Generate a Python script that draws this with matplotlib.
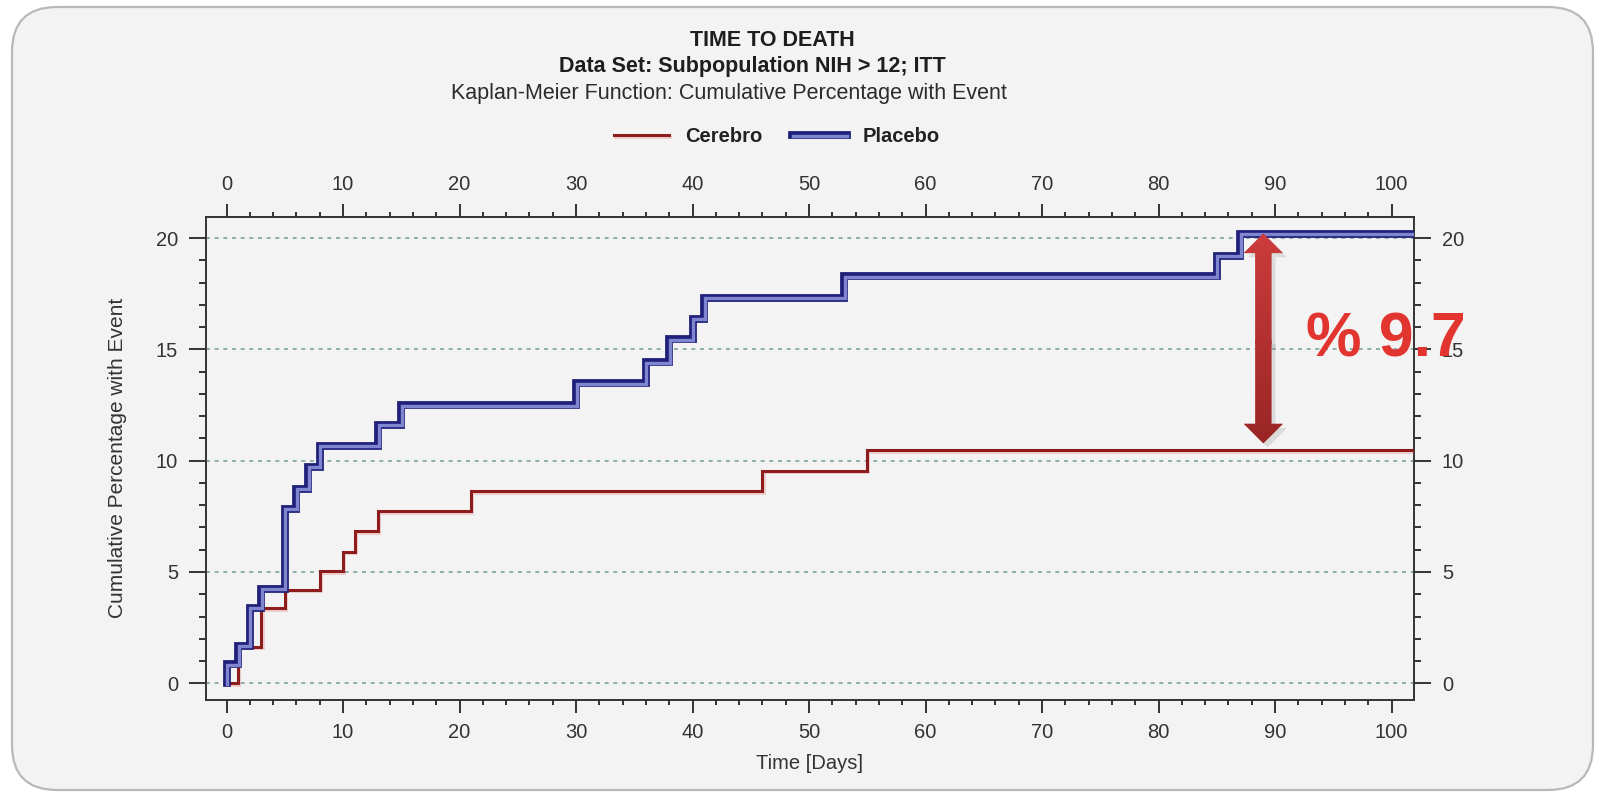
import numpy as np
import matplotlib
matplotlib.use("Agg")
import matplotlib.pyplot as plt
import matplotlib.patheffects as pe
from matplotlib.patches import FancyBboxPatch, FancyArrowPatch, ArrowStyle
from matplotlib.colors import LinearSegmentedColormap
from matplotlib.lines import Line2D
from matplotlib.transforms import IdentityTransform

plt.rcParams['font.family'] = ['Liberation Sans', 'DejaVu Sans']

# --- Kaplan-Meier data: event day and cumulative % with event after the step ---
cerebro_days = [1, 3, 5, 8, 10, 11, 13, 21, 46, 55]
cerebro_pct = [1.65, 3.38, 4.20, 5.05, 5.92, 6.82, 7.72, 8.63, 9.55, 10.47]
placebo_days = [0, 1, 2, 3, 5, 6, 7, 8, 13, 15, 30, 36, 38, 40, 41, 53, 85, 87]
placebo_pct = [0.85, 1.68, 3.40, 4.25, 7.85, 8.75, 9.72, 10.68, 11.62, 12.50,
               13.48, 14.43, 15.45, 16.38, 17.32, 18.28, 19.20, 20.20]
series_names = ['Cerebro', 'Placebo']

x_major = np.arange(0, 101, 10)
x_minor = np.arange(0, 101, 2)
y_major = [0, 5, 10, 15, 20]
y_minor = np.arange(0, 21, 1)
x_lim = (-1.76, 101.93)
y_lim = (-0.75, 20.96)
arrow_day = 89

title = 'TIME TO DEATH'
subtitle = 'Data Set: Subpopulation NIH > 12; ITT'
subtitle2 = 'Kaplan-Meier Function: Cumulative Percentage with Event'

W, H = 1600, 793
bg = '#f3f3f3'
red = '#8e1c1c'
navy = '#20207a'
lavender = '#8085d0'

fig = plt.figure(figsize=(W / 100, H / 100), dpi=100, facecolor='white')

# rounded panel behind everything
frame = FancyBboxPatch((12, 3), 1581, 783, boxstyle='round,pad=0,rounding_size=45',
                       transform=IdentityTransform(), facecolor=bg,
                       edgecolor='#b9b9b9', lw=1.6, zorder=-5)
fig.add_artist(frame)

# axes box: 206..1414 px wide, 216.7..700 px from the top
ax = fig.add_axes([206 / W, (H - 700) / H, (1414 - 206) / W, (700 - 216.7) / H])
ax.set_facecolor(bg)


def km_steps(days, pct, end):
    t = np.r_[0, days, end]
    v = np.r_[0, pct, pct[-1]]
    return t, v


red_fx = [pe.SimpleLineShadow(offset=(0.8, -1.2), shadow_color='#e07a7a', alpha=0.3),
          pe.Normal()]
blue_fx = [pe.Stroke(linewidth=5.6, foreground=navy, joinstyle='miter'),
           pe.Stroke(offset=(0.4, -0.4), linewidth=2.4, foreground=lavender, joinstyle='miter')]

t, v = km_steps(cerebro_days, cerebro_pct, x_lim[1])
ax.step(t, v, where='post', color=red, lw=2.2, solid_joinstyle='miter',
        path_effects=red_fx, zorder=3)
t, v = km_steps(placebo_days, placebo_pct, x_lim[1])
ax.step(t, v, where='post', color=lavender, lw=2.4, solid_joinstyle='miter',
        path_effects=blue_fx, zorder=4)

# grid and axes styling
ax.set_axisbelow(True)
ax.yaxis.grid(True, color='#86a9a2', ls=(0, (2.2, 2.6)), lw=1.3)
ax.set_xticks(x_major)
ax.set_xticks(x_minor, minor=True)
ax.set_yticks(y_major)
ax.set_yticks(y_minor, minor=True)
ax.tick_params(which='both', direction='out', top=True, right=True,
               labeltop=True, labelright=True, color='#333333', width=1.4,
               labelsize=14.5, labelcolor='#333333')
ax.tick_params(axis='y', which='major', length=12, pad=8)
ax.tick_params(axis='y', which='minor', length=5)
ax.tick_params(axis='x', which='major', length=9.5, pad=7)
ax.tick_params(axis='x', which='minor', length=3.5)
for s in ax.spines.values():
    s.set_color('#333333')
    s.set_linewidth(1.4)

ax.set_xlabel('Time [Days]', fontsize=14.5, color='#333333', labelpad=9)
ax.set_ylabel('Cumulative Percentage with Event', fontsize=15, color='#333333', labelpad=21)

# titles
fig.text(772 / W, 1 - 46.5 / H, title, ha='center', va='baseline',
         fontsize=15.5, fontweight='bold', color='#1e1e1e')
fig.text(752 / W, 1 - 72 / H, subtitle, ha='center', va='baseline',
         fontsize=15.5, fontweight='bold', color='#1e1e1e')
fig.text(729 / W, 1 - 99 / H, subtitle2, ha='center', va='baseline',
         fontsize=15.5, color='#2b2b2b')

# legend
handles = [Line2D([], [], color=red, lw=2.2, path_effects=red_fx),
           Line2D([], [], color=lavender, lw=2.4, path_effects=blue_fx)]
fig.legend(handles, series_names, loc='center', bbox_to_anchor=(777 / W, 1 - 136.7 / H),
           ncol=2, frameon=False, prop={'weight': 'bold', 'size': 14.5},
           handlelength=2.7, handletextpad=0.8, columnspacing=1.5, labelcolor='#222222')

# double-headed gap arrow between the final levels
top = placebo_pct[-1]
bottom = cerebro_pct[-1]
mid = (top + bottom) / 2
style = ArrowStyle.Simple(head_length=14, head_width=28, tail_width=11.5)
cmap = LinearSegmentedColormap.from_list('arrow', ['#952323', '#cf3d3d'])
grad = np.linspace(0, 1, 256).reshape(-1, 1)
for start, end, shrink in ((mid - 0.1, top, 0), (mid + 0.1, bottom, 5)):
    arr = FancyArrowPatch((arrow_day, start), (arrow_day, end), arrowstyle=style,
                          mutation_scale=1, shrinkA=0, shrinkB=shrink,
                          facecolor='#b22d2d', edgecolor='none', lw=0, zorder=6,
                          path_effects=[pe.SimplePatchShadow(offset=(3, -3), shadow_rgbFace='#888888', alpha=0.22),
                                        pe.Normal()])
    ax.add_patch(arr)
    im = ax.imshow(grad, origin='lower', extent=[arrow_day - 3, arrow_day + 3, bottom - 0.5, top + 0.5],
                   cmap=cmap, aspect='auto', interpolation='bilinear', zorder=7)
    im.set_clip_path(arr)

ax.text(arrow_day + 3.7, 14.67, f'% {top - bottom:.1f}', color='#e2352f', fontsize=45,
        fontweight='bold', ha='left', va='baseline', zorder=10, clip_on=False)

ax.set_xlim(*x_lim)
ax.set_ylim(*y_lim)

fig.savefig('out.png', dpi=100, facecolor='white')
